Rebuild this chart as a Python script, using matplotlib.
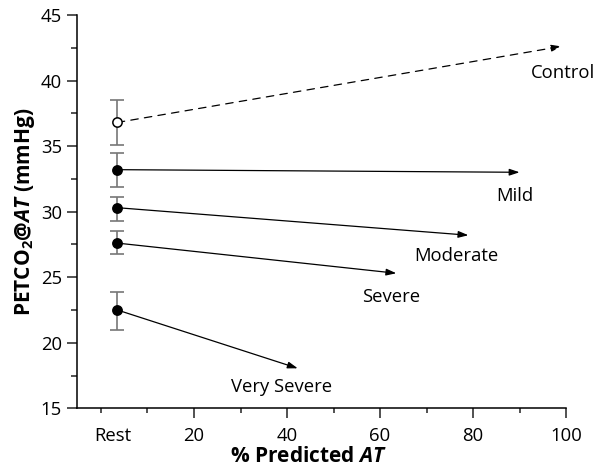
import matplotlib
matplotlib.use("Agg")
import matplotlib.pyplot as plt
from matplotlib.ticker import MultipleLocator

plt.rcParams['font.family'] = ['Open Sans', 'DejaVu Sans']
plt.rcParams['mathtext.fontset'] = 'custom'
plt.rcParams['mathtext.rm'] = 'Open Sans:bold'
plt.rcParams['mathtext.it'] = 'Open Sans:italic:bold'
plt.rcParams['mathtext.bf'] = 'Open Sans:bold'

# groups, resting value with error bar, and value at % predicted AT
groups = ["Control", "Mild", "Moderate", "Severe", "Very Severe"]
rest_x = 3.5
rest_mean = [36.8, 33.2, 30.3, 27.6, 22.5]
rest_hi = [38.5, 34.45, 31.15, 28.5, 23.9]
rest_lo = [35.1, 31.9, 29.25, 26.75, 20.95]
at_pct = [99.0, 90.0, 79.0, 63.5, 42.3]
at_val = [42.6, 33.0, 28.2, 25.3, 18.05]
label_x = [99.4, 88.9, 76.5, 62.4, 38.8]
label_y = [40.55, 31.2, 26.65, 23.5, 16.6]

fig = plt.figure(figsize=(5.99, 4.67), dpi=100)
ax = fig.add_axes([0.129, 0.1257, 0.816, 0.8423])

for i, g in enumerate(groups):
    ls = (0, (6, 5)) if g == "Control" else '-'
    ax.annotate("", xy=(at_pct[i], at_val[i]), xytext=(rest_x, rest_mean[i]),
                arrowprops=dict(arrowstyle='-|>,head_length=0.6,head_width=0.2',
                                color='black', lw=0.9, linestyle=ls,
                                shrinkA=0, shrinkB=0))
    err = [[rest_mean[i] - rest_lo[i]], [rest_hi[i] - rest_mean[i]]]
    ax.errorbar([rest_x], [rest_mean[i]], yerr=err, fmt='none', ecolor='#777777',
                elinewidth=1.2, capsize=5, capthick=1.2, zorder=3)
    face = 'white' if g == "Control" else 'black'
    ax.plot([rest_x], [rest_mean[i]], 'o', ms=6.7, mfc=face, mec='black', mew=1.1, zorder=4)
    ax.text(label_x[i], label_y[i], g, ha='center', va='center', fontsize=13.3)

ax.set_xlim(-5.1, 100)
ax.set_ylim(15, 45)
ax.set_xticks([2.5, 20, 40, 60, 80, 100])
ax.set_xticklabels(["Rest", "20", "40", "60", "80", "100"])
ax.xaxis.get_major_ticks()[0].tick1line.set_visible(False)
ax.xaxis.set_minor_locator(MultipleLocator(10))
ax.yaxis.set_major_locator(MultipleLocator(5))
ax.yaxis.set_minor_locator(MultipleLocator(2.5))
ax.tick_params(which='major', length=7, width=1.1, labelsize=13.3, color='#222222')
ax.tick_params(which='minor', length=3.5, width=1.1, color='#222222')
ax.tick_params(axis='x', which='major', pad=6.5)
ax.tick_params(axis='y', which='major', length=7.5)
ax.tick_params(axis='y', which='minor', length=4)
for s in ['top', 'right']:
    ax.spines[s].set_visible(False)
for s in ['left', 'bottom']:
    ax.spines[s].set_linewidth(1.1)

ax.set_xlabel("% Predicted $\\mathit{AT}$", fontsize=15, fontweight='bold')
ax.xaxis.set_label_coords(0.474, -0.097)
ax.set_ylabel("PETCO$_2$@$\\mathit{AT}$ (mmHg)", fontsize=15, fontweight='bold', labelpad=2.5)

fig.savefig("out.png", dpi=100)
